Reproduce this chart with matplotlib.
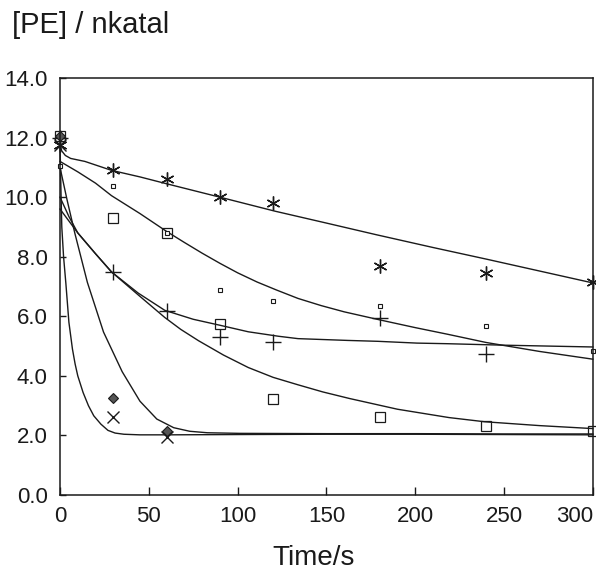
import numpy as np
import matplotlib
matplotlib.use('Agg')
import matplotlib.pyplot as plt

# measured points (time in s, [PE] in nkatal)
t_pts = [0, 30, 60, 90, 120, 180, 240, 300]
star_pts = [11.75, 10.91, 10.61, 10.02, 9.82, 7.68, 7.45, 7.15]
small_sq_pts = [11.05, 10.38, 8.81, 6.87, 6.51, 6.36, 5.66, 4.83]
big_sq_pts = [12.05, 9.3, 8.81, 5.74, 3.24, 2.61, 2.33, 2.14]
t_plus = [0, 30, 60, 90, 120, 180, 240]
plus_pts = [12.0, 7.49, 6.18, 5.3, 5.14, 5.94, 4.73]
t_short = [0, 30, 60]
diamond_pts = [12.05, 3.26, 2.16]
cross_pts = [11.75, 2.62, 1.95]

# fitted curves
star_fit_t = [0, 1, 3, 6, 14, 29, 45, 60, 90, 121, 150, 178, 210, 240, 270, 300]
star_fit = [11.75, 11.55, 11.4, 11.3, 11.2, 10.9, 10.68, 10.45, 10.0, 9.53, 9.13, 8.74, 8.31, 7.92, 7.52, 7.12]
small_fit_t = [0, 10, 20, 29, 45, 60, 70, 80, 90, 100, 111, 122, 134, 147, 160, 180, 200, 218, 240, 270, 300]
small_fit = [11.2, 10.85, 10.47, 10.05, 9.45, 8.85, 8.48, 8.12, 7.78, 7.46, 7.15, 6.88, 6.6, 6.36, 6.15, 5.88, 5.62, 5.4, 5.12, 4.82, 4.56]
plus_fit_t = [0, 5, 10, 20, 29, 44, 59, 75, 90, 106, 123, 134, 162, 179, 201, 218, 250, 300]
plus_fit = [10.0, 9.35, 8.8, 8.1, 7.49, 6.78, 6.2, 5.9, 5.7, 5.48, 5.33, 5.25, 5.19, 5.16, 5.1, 5.08, 5.03, 4.97]
big_fit_t = [0, 10, 20, 29, 44, 59, 68, 78, 92, 106, 120, 134, 148, 163, 190, 219, 239, 270, 300]
big_fit = [9.6, 8.8, 8.1, 7.49, 6.72, 5.96, 5.56, 5.18, 4.7, 4.28, 3.95, 3.7, 3.46, 3.24, 2.88, 2.6, 2.46, 2.33, 2.23]
diamond_fit_t = [0, 4, 8.3, 15.4, 24.5, 35, 45, 54.5, 64, 73, 83, 101, 150, 200, 250, 300]
diamond_fit = [11.0, 9.9, 8.8, 7.14, 5.47, 4.14, 3.15, 2.55, 2.26, 2.14, 2.09, 2.07, 2.06, 2.06, 2.05, 2.05]
cross_fit_t = [0, 0.5, 1, 2, 3.3, 5, 7, 8.5, 10, 13, 16, 19, 23, 27, 31, 36, 45, 60, 100, 150, 200, 250, 300]
cross_fit = [11.8, 10.3, 9.0, 8.0, 7.1, 5.8, 4.9, 4.4, 4.0, 3.44, 3.0, 2.66, 2.38, 2.17, 2.08, 2.04, 2.02, 2.02, 2.03, 2.04, 2.04, 2.03, 2.02]

x_ticks = [0, 50, 100, 150, 200, 250, 300]
y_ticks = [0, 2, 4, 6, 8, 10, 12, 14]

plt.rcParams['font.family'] = ['Liberation Sans', 'DejaVu Sans']
ink = '#1a1a1a'

fig = plt.figure(figsize=(5.96, 5.72), dpi=100)
ax = fig.add_axes([0.1007, 0.1346, 0.894, 0.729])

lw = 1.0
for tt, vv in [(star_fit_t, star_fit), (small_fit_t, small_fit), (plus_fit_t, plus_fit),
               (big_fit_t, big_fit), (diamond_fit_t, diamond_fit), (cross_fit_t, cross_fit)]:
    ax.plot(tt, vv, color=ink, lw=lw, clip_on=False)

ax.plot(t_pts, star_pts, ls='none', marker=(6, 2, 0), ms=10, mew=1.0, color=ink, clip_on=False)
ax.plot(t_pts, small_sq_pts, ls='none', marker='s', ms=3, mew=0.8, mfc='white', color=ink, clip_on=False)
ax.plot(t_pts, big_sq_pts, ls='none', marker='s', ms=6.5, mew=0.9, mfc='none', color=ink, clip_on=False)
ax.plot(t_plus, plus_pts, ls='none', marker='+', ms=11, mew=1.0, color=ink, clip_on=False)
ax.plot(t_short, diamond_pts, ls='none', marker='D', ms=5, mew=0.8, mfc='#555555', color=ink, clip_on=False)
ax.plot(t_short, cross_pts, ls='none', marker='x', ms=8, mew=1.0, color=ink, clip_on=False)

ax.set_xlim(0, 300)
ax.set_ylim(0, 14)
ax.set_xticks(x_ticks)
ax.set_yticks(y_ticks)
ax.set_xticklabels([str(v) for v in x_ticks], fontsize=16)
ax.set_yticklabels([f'{v:.1f}' for v in y_ticks], fontsize=16)
ax.get_xticklabels()[-1].set_ha('right')
ax.tick_params(axis='x', direction='in', length=6, width=1, pad=8, colors=ink)
ax.tick_params(axis='y', direction='in', length=4.5, width=1, pad=9, colors=ink)
for sp in ax.spines.values():
    sp.set_linewidth(1.1)
    sp.set_color(ink)

fig.text(12 / 596, 1 - 25 / 572, '[PE] / nkatal', fontsize=21, ha='left', va='center', color=ink)
fig.text(314 / 596, 1 - 558 / 572, 'Time/s', fontsize=20, ha='center', va='center', color=ink)

fig.savefig('out.png', dpi=100)
